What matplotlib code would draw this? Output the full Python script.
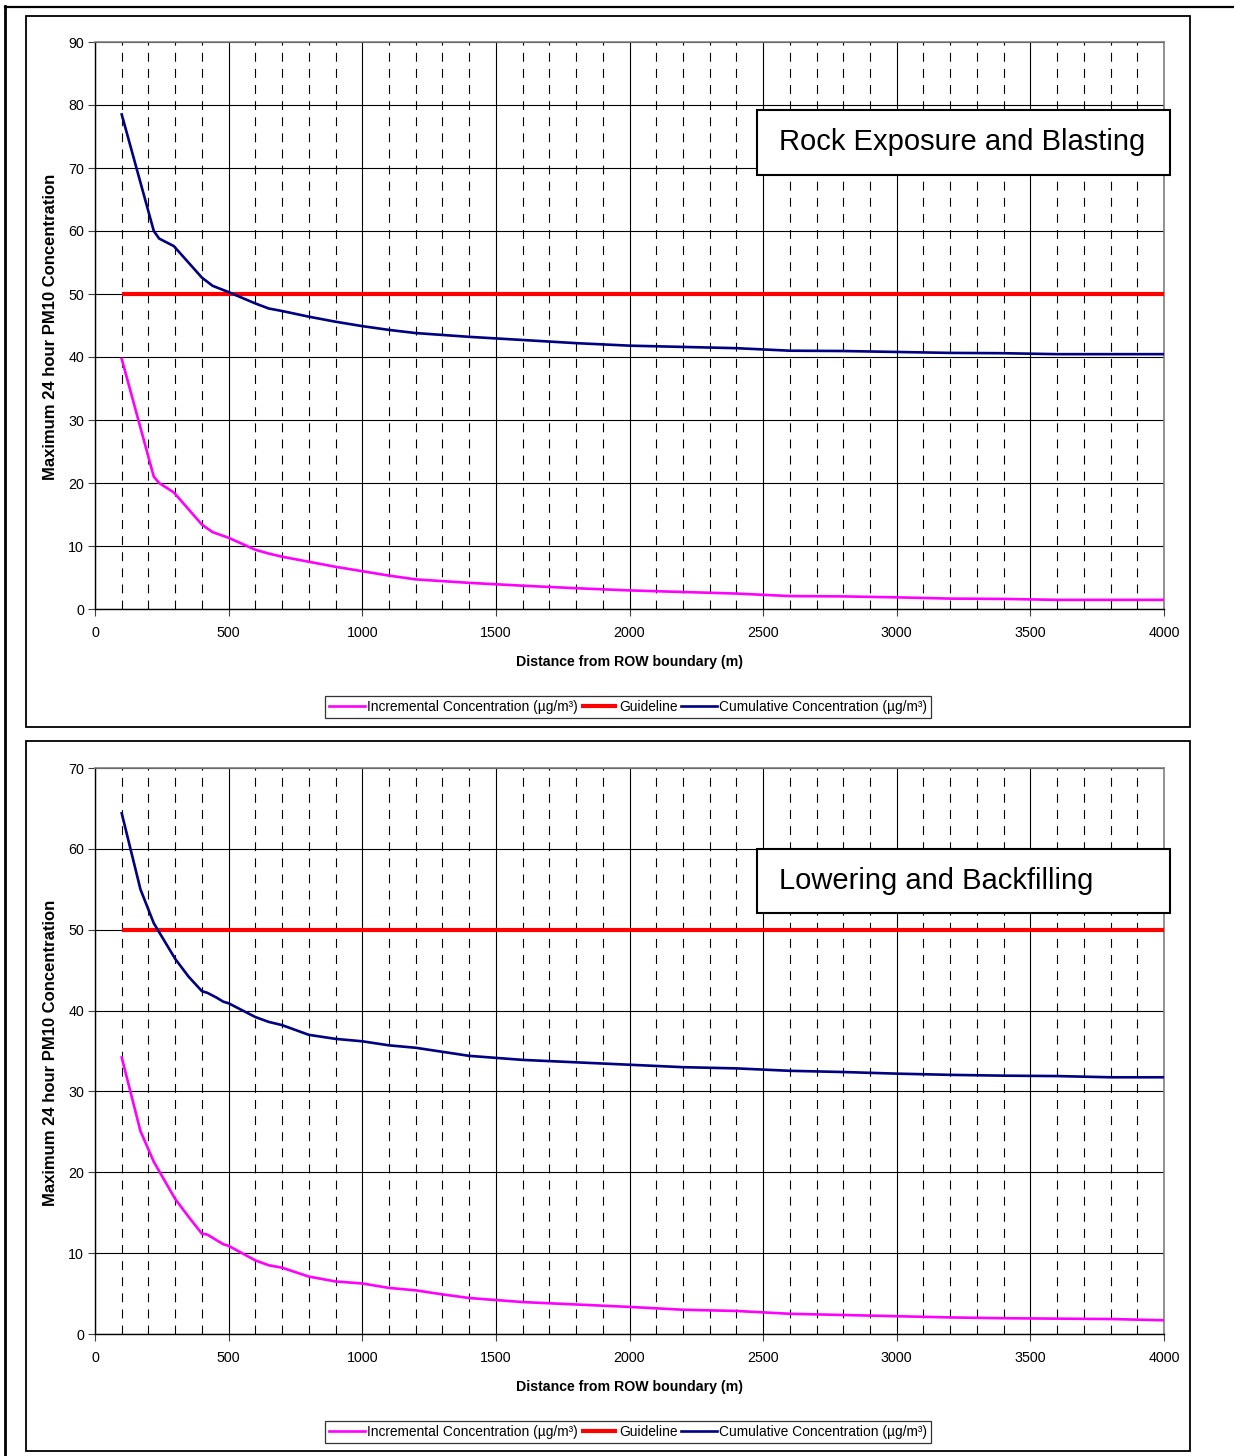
import matplotlib
matplotlib.use("Agg")
import matplotlib.pyplot as plt
from matplotlib.patches import Rectangle
from matplotlib.lines import Line2D
from matplotlib.ticker import MultipleLocator

plt.rcParams['font.family'] = ['Liberation Sans', 'DejaVu Sans']

# ---------------- data ----------------
rock_distance = [100, 220, 240, 295, 400, 440, 500, 600, 650, 700, 800, 900, 1000, 1100,
                 1200, 1400, 1600, 1800, 2000, 2200, 2400, 2600, 2800, 3000, 3200, 3400,
                 3600, 3800, 4000]
rock_incremental = [39.7, 21.0, 20.0, 18.5, 13.4, 12.2, 11.3, 9.4, 8.8, 8.3, 7.5, 6.7, 6.0, 5.3,
                    4.7, 4.15, 3.7, 3.3, 2.95, 2.7, 2.45, 2.05, 2.0, 1.85, 1.65, 1.6,
                    1.45, 1.45, 1.45]
rock_cumulative = [78.5, 60.0, 58.8, 57.6, 52.6, 51.3, 50.3, 48.5, 47.7, 47.3, 46.4, 45.6, 44.9, 44.3,
                   43.8, 43.2, 42.7, 42.2, 41.8, 41.6, 41.4, 41.0, 40.95, 40.8, 40.65, 40.6,
                   40.45, 40.45, 40.45]

lower_distance = [100, 170, 220, 300, 350, 400, 420, 455, 480, 500, 600, 650, 700, 800, 900,
                  1000, 1100, 1200, 1300, 1400, 1600, 1800, 2000, 2200, 2400, 2600, 2800,
                  3000, 3200, 3400, 3600, 3800, 4000]
lower_incremental = [34.2, 25.1, 21.3, 16.7, 14.5, 12.4, 12.3, 11.6, 11.1, 10.9, 9.1, 8.5, 8.2, 7.1, 6.5,
                     6.25, 5.7, 5.4, 4.9, 4.45, 3.95, 3.65, 3.35, 3.0, 2.85, 2.5, 2.35,
                     2.2, 2.05, 1.95, 1.9, 1.85, 1.7]
lower_cumulative = [64.4, 55.0, 50.8, 46.4, 44.2, 42.4, 42.2, 41.6, 41.1, 40.9, 39.2, 38.6, 38.2, 37.0, 36.5,
                    36.2, 35.7, 35.4, 34.9, 34.4, 33.9, 33.6, 33.3, 33.0, 32.85, 32.55, 32.4,
                    32.2, 32.05, 31.95, 31.9, 31.75, 31.75]

guideline_value = 50
guideline_range = [100, 4000]

titles = ["Rock Exposure and Blasting", "Lowering and Backfilling"]
y_max = [90, 70]
x_label = "Distance from ROW boundary (m)"
y_label = "Maximum 24 hour PM10 Concentration"
legend_labels = ["Incremental Concentration (\u00b5g/m\u00b3)", "Guideline",
                 "Cumulative Concentration (\u00b5g/m\u00b3)"]

# ---------------- layout ----------------
W, H = 1234, 1456
fig = plt.figure(figsize=(W / 100, H / 100), dpi=100)


def fx(px):
    return px / W


def fy(py):
    return 1 - py / H


def draw_chart(plot_box, chart_box, title_box, dist, inc, cum, ymax, title):
    x0, y0, x1, y1 = plot_box
    ax = fig.add_axes([fx(x0), fy(y1), fx(x1) - fx(x0), fy(y0) - fy(y1)])
    ax.set_xlim(0, 4000)
    ax.set_ylim(0, ymax)
    ax.xaxis.set_major_locator(MultipleLocator(500))
    ax.xaxis.set_minor_locator(MultipleLocator(100))
    ax.yaxis.set_major_locator(MultipleLocator(10))
    ax.grid(which='major', axis='both', color='black', lw=0.8)
    ax.grid(which='minor', axis='x', color='black', lw=0.8, ls=(0, (8, 6.5)))
    ax.set_axisbelow(True)
    for s in ['top', 'right']:
        ax.spines[s].set_color('#808080')
        ax.spines[s].set_linewidth(1.2)
    for s in ['left', 'bottom']:
        ax.spines[s].set_color('black')
        ax.spines[s].set_linewidth(1.0)
    ax.tick_params(axis='both', which='major', direction='out', length=5, width=0.8,
                   labelsize=10.3, color='#404040')
    ax.tick_params(axis='x', which='major', pad=7)
    ax.tick_params(axis='y', which='major', pad=3)
    ax.tick_params(axis='x', which='minor', length=0)

    l1, = ax.plot(dist, inc, color='#FF00FF', lw=1.9, zorder=3)
    l2, = ax.plot(guideline_range, [guideline_value] * len(guideline_range),
                  color='#FF0000', lw=3.0, zorder=3, solid_capstyle='butt')
    l3, = ax.plot(dist, cum, color='#000080', lw=1.9, zorder=3)

    ax.set_xlabel(x_label, fontsize=10.2, fontweight='bold')
    ax.xaxis.set_label_coords((630 - x0) / (x1 - x0), -53 / (y1 - y0))
    ax.xaxis.label.set_va('center')
    ax.set_ylabel(y_label, fontsize=12, fontweight='bold')
    ax.yaxis.set_label_coords((51 - x0) / (x1 - x0), 0.497)
    ax.yaxis.label.set_va('center')

    leg = ax.legend([l1, l2, l3], legend_labels, ncol=3, loc='center',
                    bbox_to_anchor=((628 - x0) / (x1 - x0), -98 / (y1 - y0)),
                    fontsize=9.9, frameon=True, fancybox=False, edgecolor='black',
                    handlelength=2.6, handletextpad=0.15, columnspacing=0.25,
                    borderpad=0.3, borderaxespad=0)
    leg.get_frame().set_linewidth(0.9)

    # outer chart border
    cx0, cy0, cx1, cy1 = chart_box
    fig.add_artist(Rectangle((fx(cx0), fy(cy1)), fx(cx1) - fx(cx0), fy(cy0) - fy(cy1),
                             fill=False, edgecolor='black', lw=1.3))
    # title box
    tx0, ty0, tx1, ty1 = title_box
    fig.add_artist(Rectangle((fx(tx0), fy(ty1)), fx(tx1) - fx(tx0), fy(ty0) - fy(ty1),
                             facecolor='white', edgecolor='black', lw=1.5, zorder=4))
    fig.text(fx(tx0 + 22), fy((ty0 + ty1) / 2), title, fontsize=21, va='center',
             ha='left', zorder=5)
    return ax


draw_chart((95, 42, 1164, 609), (26, 16, 1190, 727), (757, 110, 1170, 175),
           rock_distance, rock_incremental, rock_cumulative, y_max[0], titles[0])
draw_chart((95, 768, 1164, 1334), (26, 741, 1190, 1451), (757, 849, 1170, 913),
           lower_distance, lower_incremental, lower_cumulative, y_max[1], titles[1])

# page border (left and top)
fig.add_artist(Line2D([fx(5), fx(5)], [fy(6), fy(1456)], color='black', lw=2.0))
fig.add_artist(Line2D([fx(5), fx(1234)], [fy(7), fy(7)], color='black', lw=1.6))

fig.savefig("out.png", dpi=100)
